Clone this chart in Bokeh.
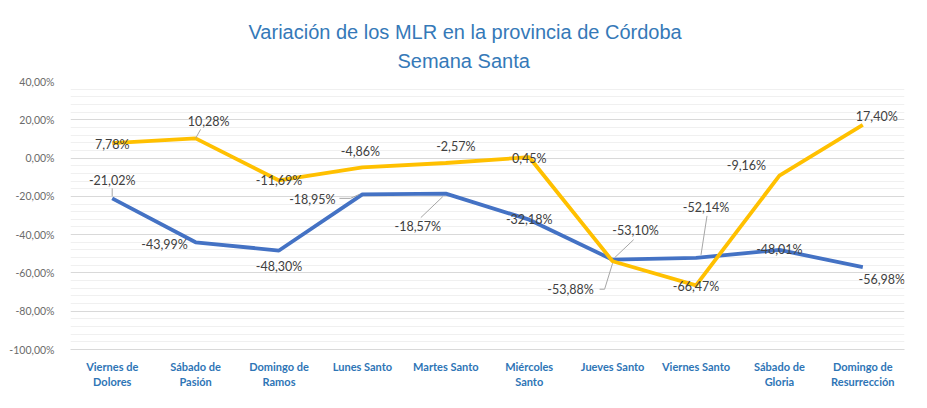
from bokeh.plotting import figure
from bokeh.models import FixedTicker, Title, Range1d, ColumnDataSource, LabelSet
from bokeh.core.properties import value
from bokeh.embed import file_html
from bokeh.resources import INLINE

# ---- data ----
categories = ["Viernes de Dolores", "Sábado de Pasión", "Domingo de Ramos", "Lunes Santo",
              "Martes Santo", "Miércoles Santo", "Jueves Santo", "Viernes Santo",
              "Sábado de Gloria", "Domingo de Resurrección"]
category_labels = ["Viernes de\nDolores", "Sábado de\nPasión", "Domingo de\nRamos", "Lunes Santo",
                   "Martes Santo", "Miércoles\nSanto", "Jueves Santo", "Viernes Santo",
                   "Sábado de\nGloria", "Domingo de\nResurrección"]
serie_azul = [-21.02, -43.99, -48.30, -18.95, -18.57, -32.18, -53.10, -52.14, -48.01, -56.98]
serie_amarilla = [7.78, 10.28, -11.69, -4.86, -2.57, 0.45, -53.88, -66.47, -9.16, 17.40]
y_ticks = [-100, -80, -60, -40, -20, 0, 20, 40]
y_tick_labels = ["-100,00%", "-80,00%", "-60,00%", "-40,00%", "-20,00%", "0,00%", "20,00%", "40,00%"]

# ---- label placement (pixels, screen direction: +dy = down) ----
azul_dx = [0, -31, 0, -50, -28, 0, 23, 10, 0, 19]
azul_dy = [-18, 2, 16, 5, 33, 0, -29, -50, 0, 12]
amar_dx = [0, 13, 0, -2, 10, 0, -42, 0, -33, 14]
amar_dy = [1, -17, 0, -16, -16, 1, 28, 1, -10, -8]

W, H = 927, 408
LEFT, RIGHT, TOP, BOTTOM = 70, 23, 81, 59
PX_X = (W - LEFT - RIGHT) / 10.0
PX_Y = (H - TOP - BOTTOM) / 140.0

xs = [i + 0.5 for i in range(len(categories))]

def fmt(v):
    return ("%.2f%%" % v).replace(".", ",")

p = figure(width=W, height=H, output_backend="svg", toolbar_location=None,
           x_range=Range1d(0, 10), y_range=Range1d(-100, 40),
           min_border_left=LEFT, min_border_right=RIGHT,
           min_border_top=TOP, min_border_bottom=BOTTOM,
           background_fill_color="white", border_fill_color="white")
p.outline_line_color = None

# titles
TITLE_COLOR = "#3579B8"
t2 = Title(text="Semana Santa", align="left", offset=327, standoff=15,
           vertical_align="top",
           text_color=TITLE_COLOR, text_font="Liberation Sans", text_font_size="20px",
           text_font_style="normal")
t1 = Title(text="Variación de los MLR en la provincia de Córdoba", align="left", offset=178,
           standoff=0, vertical_align="bottom", text_color=TITLE_COLOR,
           text_font="Liberation Sans", text_font_size="20px", text_font_style="normal")
p.add_layout(t2, "above")
p.add_layout(t1, "above")

# y axis
minor = [v for v in range(-100, 41, 4) if v not in y_ticks]
p.yaxis.ticker = FixedTicker(ticks=y_ticks, minor_ticks=minor)
p.yaxis.major_label_overrides = {v: s for v, s in zip(y_ticks, y_tick_labels)}
p.yaxis.axis_line_color = None
p.yaxis.major_tick_line_color = None
p.yaxis.minor_tick_line_color = None
p.yaxis.major_label_text_color = "#6B6B6B"
p.yaxis.major_label_text_font = "Lato"
p.yaxis.major_label_text_font_size = "10.5px"
p.yaxis.major_label_standoff = 10

# x axis
p.xaxis.ticker = FixedTicker(ticks=xs)
p.xaxis.major_label_overrides = {x: s for x, s in zip(xs, category_labels)}
p.xaxis.axis_line_color = "#D9D9D9"
p.xaxis.major_tick_line_color = None
p.xaxis.minor_tick_line_color = None
p.xaxis.major_label_text_color = "#2E75B6"
p.xaxis.major_label_text_font = "Lato"
p.xaxis.major_label_text_font_style = "bold"
p.xaxis.major_label_text_font_size = "11px"
p.xaxis.major_label_standoff = 4

# grid
p.xgrid.grid_line_color = None
p.ygrid.grid_line_color = "#D9D9D9"
p.ygrid.minor_grid_line_color = "#F0F0F0"

# lines
p.line(xs, serie_azul, line_color="#4472C4", line_width=3.8)
p.line(xs, serie_amarilla, line_color="#FFC000", line_width=3.8)

# leader lines (offsets in pixels relative to the data point)
leaders = [
    (1, serie_amarilla, [(5, -9), (0, 0)]),
    (6, serie_amarilla, [(-13, 28), (-8, 28), (0, 2)]),
    (0, serie_azul, [(0, -10), (0, -2)]),
    (3, serie_azul, [(-23, 4), (-12, 4), (-3, 0)]),
    (4, serie_azul, [(-25, 24), (-3, 3)]),
    (6, serie_azul, [(21, -20), (2, -2)]),
    (7, serie_azul, [(11, -42), (5, -3)]),
]
lx, ly = [], []
for i, ser, pts in leaders:
    lx.append([xs[i] + dx / PX_X for dx, dy in pts])
    ly.append([ser[i] - dy / PX_Y for dx, dy in pts])
p.multi_line(lx, ly, line_color="#A6A6A6", line_width=1)

# data labels
for ser, dx, dy in ((serie_azul, azul_dx, azul_dy), (serie_amarilla, amar_dx, amar_dy)):
    src = ColumnDataSource(dict(x=xs, y=ser, t=[fmt(v) for v in ser], dx=dx,
                                dy=[-d for d in dy]))
    p.add_layout(LabelSet(x="x", y="y", text="t", x_offset="dx", y_offset="dy", source=src,
                          text_font=value("Lato"), text_font_size="12.5px",
                          text_color="#404040", text_align="center",
                          text_baseline="middle"))

open("out.html", "w").write(file_html(p, INLINE))
